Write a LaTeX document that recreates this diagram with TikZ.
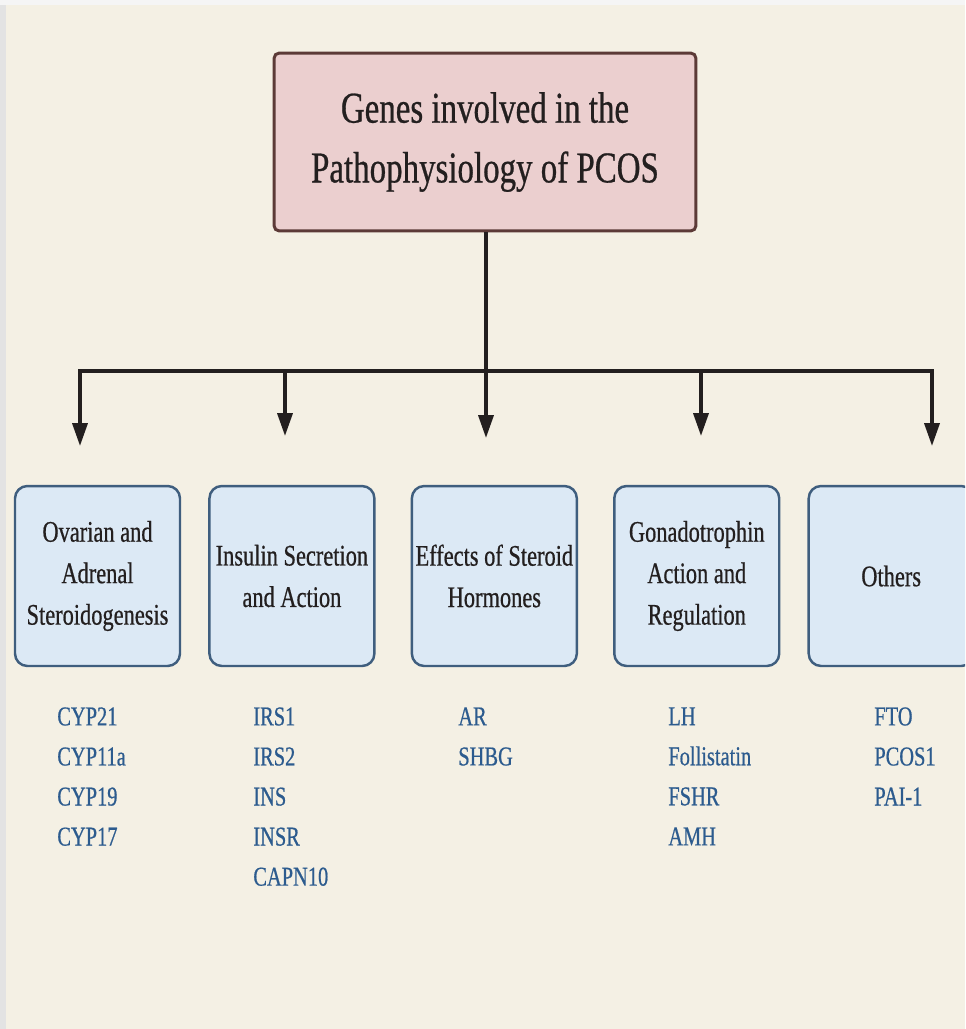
\documentclass[tikz,border=0pt]{standalone}
\usepackage{fontspec}
\setmainfont{Liberation Serif}[FakeStretch=0.75, FakeBold=0.6]
\usetikzlibrary{positioning,arrows.meta}
\definecolor{paper}{HTML}{F4F0E4}
\definecolor{rim}{HTML}{E3E3E3}
\definecolor{ink}{HTML}{231F1F}
\definecolor{titlefill}{HTML}{EBCFCF}
\definecolor{titleedge}{HTML}{5C3A37}
\definecolor{groupfill}{HTML}{DCE9F5}
\definecolor{groupedge}{HTML}{3F5E7E}
\definecolor{geneblue}{HTML}{2C5B8E}

\begin{document}
\begin{tikzpicture}[x=0.02cm, y=-0.02cm, >={Triangle[length=13pt, width=8.5pt]},
  titlebox/.style={rectangle, rounded corners=3pt, draw=titleedge, fill=titlefill, line width=1.7pt, minimum width=8.44cm, minimum height=3.56cm, align=center, text=ink, font=\fontsize{25}{34}\selectfont},
  groupbox/.style={rectangle, rounded corners=7pt, draw=groupedge, fill=groupfill, line width=1.4pt, minimum width=3.3cm, minimum height=3.6cm, inner sep=1pt, align=center, text=ink, font=\fontsize{17}{23.6}\selectfont},
  genelist/.style={anchor=north west, inner sep=0pt, align=left, text=geneblue, font=\fontsize{15.5}{22.8}\selectfont},
  link/.style={draw=ink, line width=2pt}]
\path[use as bounding box, clip] (0,0) rectangle (965,1029);
\fill[paper] (0,0) rectangle (965,1029);
\fill[white!96!black] (0,0) rectangle (965,5);
\fill[rim] (0,5) rectangle (6,1029);

\node[titlebox] (pcos) at (485,142) {Genes involved in the\\Pathophysiology of PCOS};

\node[groupbox] (ovarian) at (97.5,576) {Ovarian and\\Adrenal\\Steroidogenesis};
\node[groupbox, right=0.54cm of ovarian] (insulin) {Insulin Secretion\\and Action};
\node[groupbox, right=0.7cm of insulin] (steroid) {Effects of Steroid\\Hormones};
\node[groupbox, right=0.7cm of steroid] (gonado) {Gonadotrophin\\Action and\\Regulation};
\node[groupbox, right=0.54cm of gonado] (others) {Others};

\node[genelist] (ovgenes) at (57,707) {CYP21\\CYP11a\\CYP19\\CYP17};
\node[genelist] (insgenes) at (253,707) {IRS1\\IRS2\\INS\\INSR\\CAPN10};
\node[genelist] (stgenes) at (458,707) {AR\\SHBG};
\node[genelist] (gngenes) at (668,707) {LH\\Follistatin\\FSHR\\AMH};
\node[genelist] (otgenes) at (874,707) {FTO\\PCOS1\\PAI-1};

% bus and arrow ends
\coordinate (busl) at (80,371);
\coordinate (busr) at (932,371);
\coordinate (tip1) at (80,446);
\coordinate (tip2) at (285,436);
\coordinate (tip3) at (486,438);
\coordinate (tip4) at (701,436);
\coordinate (tip5) at (932,446);

\draw[link] (pcos.south -| tip3) -- (tip3 |- busl);
\draw[link, <->] (tip1) -- (busl) -- (busr) -- (tip5);
\draw[link, ->] (tip2 |- busl) -- (tip2);
\draw[link, ->] (tip3 |- busl) -- (tip3);
\draw[link, ->] (tip4 |- busl) -- (tip4);
\end{tikzpicture}
\end{document}
